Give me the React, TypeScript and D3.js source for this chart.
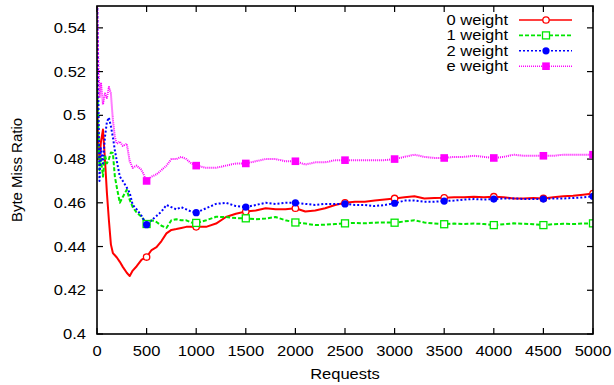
import React from 'react';
import * as d3 from 'd3';

// request counts where the curves were sampled
const requests = [
  0, 10, 25, 40, 60, 80, 100, 120, 140, 160, 180, 200, 230, 260, 300, 330, 360, 400, 450, 500,
  550, 600, 650, 700, 750, 800, 850, 900, 950, 1000,
  1100, 1200, 1300, 1400, 1500, 1600, 1700, 1800, 1900, 2000,
  2100, 2200, 2300, 2400, 2500, 2600, 2700, 2800, 2900, 3000,
  3100, 3200, 3300, 3400, 3500, 3600, 3700, 3800, 3900, 4000,
  4100, 4200, 4300, 4400, 4500, 4600, 4700, 4800, 4900, 5000,
];

const weight0 = [
  0.51, 0.49, 0.48, 0.488, 0.4935, 0.48, 0.4645, 0.452, 0.441, 0.437, 0.436, 0.435, 0.433, 0.4307, 0.428, 0.4265, 0.429, 0.431, 0.434, 0.4352,
  0.4384, 0.4397, 0.4425, 0.446, 0.4476, 0.448, 0.4485, 0.449, 0.449, 0.449,
  0.449, 0.4505, 0.4535, 0.455, 0.456, 0.4565, 0.4575, 0.457, 0.457, 0.4575,
  0.456, 0.4565, 0.4575, 0.459, 0.46, 0.4605, 0.4605, 0.461, 0.4615, 0.462,
  0.4625, 0.463, 0.462, 0.4622, 0.4623, 0.4625, 0.4625, 0.4628, 0.4625, 0.4628,
  0.4625, 0.462, 0.462, 0.4622, 0.462, 0.4625, 0.463, 0.4632, 0.4637, 0.4642,
];

const weight1 = [
  0.52, 0.5, 0.475, 0.48, 0.472, 0.482, 0.478, 0.48, 0.483, 0.4828, 0.472, 0.467, 0.46, 0.4627, 0.466, 0.4613, 0.458, 0.4555, 0.4536, 0.4503,
  0.452, 0.4512, 0.4495, 0.4485, 0.452, 0.4525, 0.452, 0.452, 0.451, 0.4508,
  0.452, 0.4536, 0.4535, 0.453, 0.4529, 0.4525, 0.4528, 0.4535, 0.452, 0.451,
  0.4505, 0.4498, 0.45, 0.4503, 0.4506, 0.4508, 0.4506, 0.4509, 0.451, 0.4509,
  0.4515, 0.452, 0.451, 0.4505, 0.4502, 0.4505, 0.4503, 0.4505, 0.4503, 0.4498,
  0.4502, 0.4506, 0.4504, 0.4502, 0.4498, 0.4502, 0.4504, 0.4503, 0.4505, 0.4506,
];

const weight2 = [
  0.56, 0.52, 0.47, 0.485, 0.478, 0.49, 0.497, 0.499, 0.495, 0.49, 0.484, 0.479, 0.472, 0.47, 0.467, 0.4645, 0.459, 0.457, 0.454, 0.45,
  0.452, 0.454, 0.456, 0.459, 0.458, 0.457, 0.458, 0.457, 0.456, 0.4555,
  0.4575, 0.4595, 0.46, 0.4585, 0.458, 0.459, 0.46, 0.4595, 0.46, 0.46,
  0.4595, 0.459, 0.4595, 0.4595, 0.4595, 0.459, 0.459, 0.4585, 0.459, 0.4598,
  0.461, 0.461, 0.4605, 0.4605, 0.4608, 0.461, 0.4615, 0.4617, 0.4615, 0.4617,
  0.462, 0.462, 0.4617, 0.4617, 0.4617, 0.462, 0.462, 0.4622, 0.4625, 0.463,
];

const weightE = [
  0.56, 0.53, 0.508, 0.515, 0.505, 0.51, 0.508, 0.513, 0.51, 0.498, 0.49, 0.487, 0.488, 0.486, 0.487, 0.479, 0.476, 0.477, 0.475, 0.47,
  0.472, 0.473, 0.475, 0.477, 0.48, 0.48, 0.481, 0.48, 0.478, 0.477,
  0.476, 0.476, 0.477, 0.478, 0.478, 0.479, 0.48, 0.48, 0.479, 0.479,
  0.4775, 0.4785, 0.4785, 0.4795, 0.4795, 0.4795, 0.4795, 0.4795, 0.4795, 0.48,
  0.481, 0.482, 0.481, 0.4805, 0.4805, 0.481, 0.481, 0.4815, 0.481, 0.4805,
  0.481, 0.482, 0.4815, 0.4815, 0.4815, 0.4815, 0.482, 0.482, 0.482, 0.482,
];

const xTicks = [0, 500, 1000, 1500, 2000, 2500, 3000, 3500, 4000, 4500, 5000];
const yTicks = [0.4, 0.42, 0.44, 0.46, 0.48, 0.5, 0.52, 0.54];

type Marker = 'openCircle' | 'openSquare' | 'dot' | 'square';

const series: { name: string; values: number[]; color: string; dash: string | null; marker: Marker }[] = [
  { name: '0 weight', values: weight0, color: '#ff0000', dash: null, marker: 'openCircle' },
  { name: '1 weight', values: weight1, color: '#00e600', dash: '4,2', marker: 'openSquare' },
  { name: '2 weight', values: weight2, color: '#0000ff', dash: '2,2', marker: 'dot' },
  { name: 'e weight', values: weightE, color: '#ff00ff', dash: '1,1', marker: 'square' },
];

const W = 614;
const H = 385;
const margin = { top: 6, right: 21, bottom: 51, left: 97 };
const FONT = 'Liberation Sans, Arial, Helvetica, sans-serif';
const SX = 1.18; // the source picture is stretched sideways

const drawMarker = (kind: Marker, x: number, y: number, color: string, key: string) => {
  if (kind === 'openCircle')
    return <circle key={key} cx={x} cy={y} r={3.2} fill="white" stroke={color} strokeWidth={1.3} />;
  if (kind === 'openSquare')
    return <rect key={key} x={x - 3.5} y={y - 3.5} width={7} height={7} fill="white" stroke={color} strokeWidth={1.3} />;
  if (kind === 'dot') return <circle key={key} cx={x} cy={y} r={3.6} fill={color} />;
  return <rect key={key} x={x - 3.8} y={y - 3.8} width={7.6} height={7.6} fill={color} />;
};

const HText = ({ x, y, anchor, children, size = 14 }: any) => (
  <text
    transform={`translate(${x},${y}) scale(${SX},1)`}
    textAnchor={anchor}
    fontSize={size}
    fontFamily={FONT}
    fill="#000"
  >
    {children}
  </text>
);

export default function App() {
  const x = d3.scaleLinear().domain([0, 5000]).range([margin.left, W - margin.right]);
  const y = d3.scaleLinear().domain([0.4, 0.55]).range([H - margin.bottom, margin.top]);
  const [x0, x1] = x.range();
  const [y0, y1] = y.range();

  const line = d3
    .line<number>()
    .x((_, i) => x(requests[i]))
    .y(d => y(d));

  const legendX = 508;
  const legendY = 20;
  const legendStep = 15.4;

  return (
    <svg width={W} height={H} style={{ position: 'absolute', left: 0, top: 0, background: '#fff' }}>
      <defs>
        <clipPath id="plot-clip">
          <rect x={x0} y={y1} width={x1 - x0} height={y0 - y1} />
        </clipPath>
      </defs>

      {/* ticks on all four sides */}
      {xTicks.map(t => (
        <g key={`xt${t}`}>
          <line x1={x(t)} x2={x(t)} y1={y0} y2={y0 - 6} stroke="#000" strokeWidth={1.2} />
          <line x1={x(t)} x2={x(t)} y1={y1} y2={y1 + 6} stroke="#000" strokeWidth={1.2} />
          <HText x={x(t)} y={356} anchor="middle">{t}</HText>
        </g>
      ))}
      {yTicks.map(t => (
        <g key={`yt${t}`}>
          <line x1={x0} x2={x0 + 6} y1={y(t)} y2={y(t)} stroke="#000" strokeWidth={1.2} />
          <line x1={x1} x2={x1 - 6} y1={y(t)} y2={y(t)} stroke="#000" strokeWidth={1.2} />
          <HText x={86} y={y(t) + 5} anchor="end">{String(t)}</HText>
        </g>
      ))}

      <g clipPath="url(#plot-clip)">
        {series.map(s => (
          <path
            key={s.name}
            d={line(s.values) || ''}
            fill="none"
            stroke={s.color}
            strokeWidth={2}
            strokeDasharray={s.dash || undefined}
            strokeLinejoin="round"
          />
        ))}
        {series.map(s =>
          requests.map((r, i) =>
            r % 500 === 0 && s.values[i] <= 0.55 && r > 0
              ? drawMarker(s.marker, x(r), y(s.values[i]), s.color, `${s.name}-${r}`)
              : null
          )
        )}
      </g>

      <rect x={x0} y={y1} width={x1 - x0} height={y0 - y1} fill="none" stroke="#000" strokeWidth={1.6} />

      {/* legend */}
      {series.map((s, i) => {
        const ly = legendY + i * legendStep;
        return (
          <g key={`lg${s.name}`}>
            <HText x={legendX} y={ly + 5} anchor="end" size={14}>{s.name}</HText>
            <line
              x1={519}
              x2={572}
              y1={ly}
              y2={ly}
              stroke={s.color}
              strokeWidth={1.6}
              strokeDasharray={s.dash || undefined}
            />
            {drawMarker(s.marker, 546, ly, s.color, `lm${s.name}`)}
          </g>
        );
      })}

      <HText x={345} y={379} anchor="middle">Requests</HText>
      <text
        transform={`translate(22,${170}) rotate(-90)`}
        textAnchor="middle"
        fontSize={15}
        fontFamily={FONT}
        fill="#000"
      >
        Byte Miss Ratio
      </text>
    </svg>
  );
}
